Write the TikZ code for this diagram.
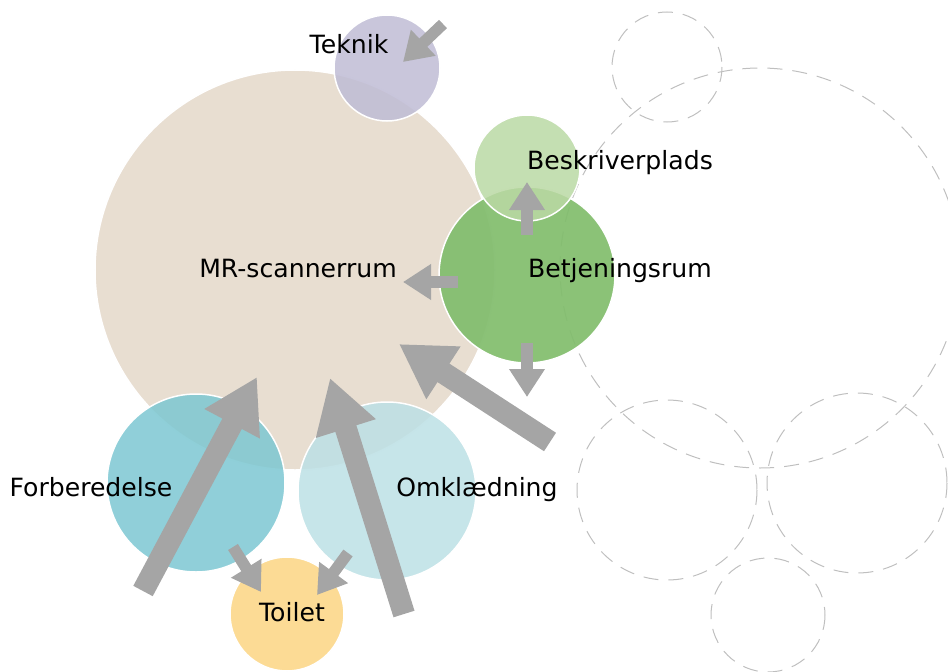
\documentclass[tikz,border=0pt]{standalone}
\usepackage{fontspec}
\setmainfont{DejaVu Sans}
\usepackage{tikz}
\usetikzlibrary{arrows.meta}
\usepackage{xcolor}
\definecolor{mrbeige}{HTML}{E4D8C9}
\definecolor{tekcol}{HTML}{BFBCD5}
\definecolor{beskcol}{HTML}{BAD9A4}
\definecolor{betjcol}{HTML}{82BD6D}
\definecolor{forbcol}{HTML}{7CC7D2}
\definecolor{omklcol}{HTML}{BCE0E5}
\definecolor{toilcol}{HTML}{FBD583}
\definecolor{arrowgray}{HTML}{A5A5A5}
\tikzset{room/.style={circle, draw=white, line width=0.3mm, inner sep=0pt, fill opacity=0.85}}
\tikzset{spare/.style={draw=gray!50, line width=0.2mm, dash pattern=on 3mm off 2mm}}
\tikzset{flow/.style={draw=arrowgray, line width=2.3mm, -{Triangle[length=5.6mm,width=6.8mm]}}}
\tikzset{bigflow/.style={draw=arrowgray, line width=4.4mm, -{Triangle[length=10.6mm,width=11.8mm]}}}
\tikzset{lbl/.style={font=\fontsize{14.3}{16}\selectfont, anchor=base, inner sep=0pt}}

\begin{document}
\begin{tikzpicture}[x=0.2mm, y=-0.2mm]
\useasboundingbox (0,0) rectangle (948,672);

\foreach \x/\y/\r in {667/67/55, 760/268/200, 667/490/90, 857/483/90, 768/615/57}
  \draw[spare] (\x,\y) circle [radius=\r];

\node[room, fill=mrbeige, minimum size=80mm] (mr) at (295,270) {};
\node[room, fill=tekcol, minimum size=21.2mm] (tek) at (387,68) {};
\node[room, fill=betjcol, fill opacity=0.93, minimum size=35.2mm] (betj) at (527,275) {};
\node[room, fill=beskcol, minimum size=21.2mm] (besk) at (527,168) {};
\node[room, fill=forbcol, minimum size=35.6mm] (forb) at (196,483) {};
\node[room, fill=omklcol, minimum size=35.6mm] (omkl) at (387,491) {};
\node[room, fill=toilcol, minimum size=22.8mm] (toil) at (287,614) {};

\coordinate (tek-a) at (443,24);
\coordinate (tek-b) at (403,62);
\coordinate (besk-a) at (527,235);
\coordinate (besk-b) at (527,182);
\coordinate (mr-a) at (458,282);
\coordinate (mr-b) at (403,282);
\coordinate (ned-a) at (527,343);
\coordinate (ned-b) at (527,397);
\coordinate (ind-a) at (550,442);
\coordinate (ind-b) at (399,344);
\coordinate (forb-a) at (143,591);
\coordinate (forb-b) at (257,377);
\coordinate (omkl-a) at (404,614);
\coordinate (omkl-b) at (330,378);
\coordinate (wc1-a) at (233,547);
\coordinate (wc1-b) at (261,592);
\coordinate (wc2-a) at (348,553);
\coordinate (wc2-b) at (317,595);

\draw[flow] (tek-a) -- (tek-b);
\draw[flow] (besk-a) -- (besk-b);
\draw[flow] (mr-a) -- (mr-b);
\draw[flow] (ned-a) -- (ned-b);
\draw[bigflow] (ind-a) -- (ind-b);
\draw[bigflow] (forb-a) -- (forb-b);
\draw[bigflow] (omkl-a) -- (omkl-b);
\draw[flow] (wc1-a) -- (wc1-b);
\draw[flow] (wc2-a) -- (wc2-b);

\node[lbl] (tek-t) at (349,53) {Teknik};
\node[lbl] (mr-t) at (298,277) {MR-scannerrum};
\node[lbl] (besk-t) at (620,169) {Beskriverplads};
\node[lbl] (betj-t) at (620,277) {Betjeningsrum};
\node[lbl] (forb-t) at (91,496) {Forberedelse};
\node[lbl] (omkl-t) at (477,496) {Omklædning};
\node[lbl] (toil-t) at (292,621) {Toilet};
\end{tikzpicture}
\end{document}
